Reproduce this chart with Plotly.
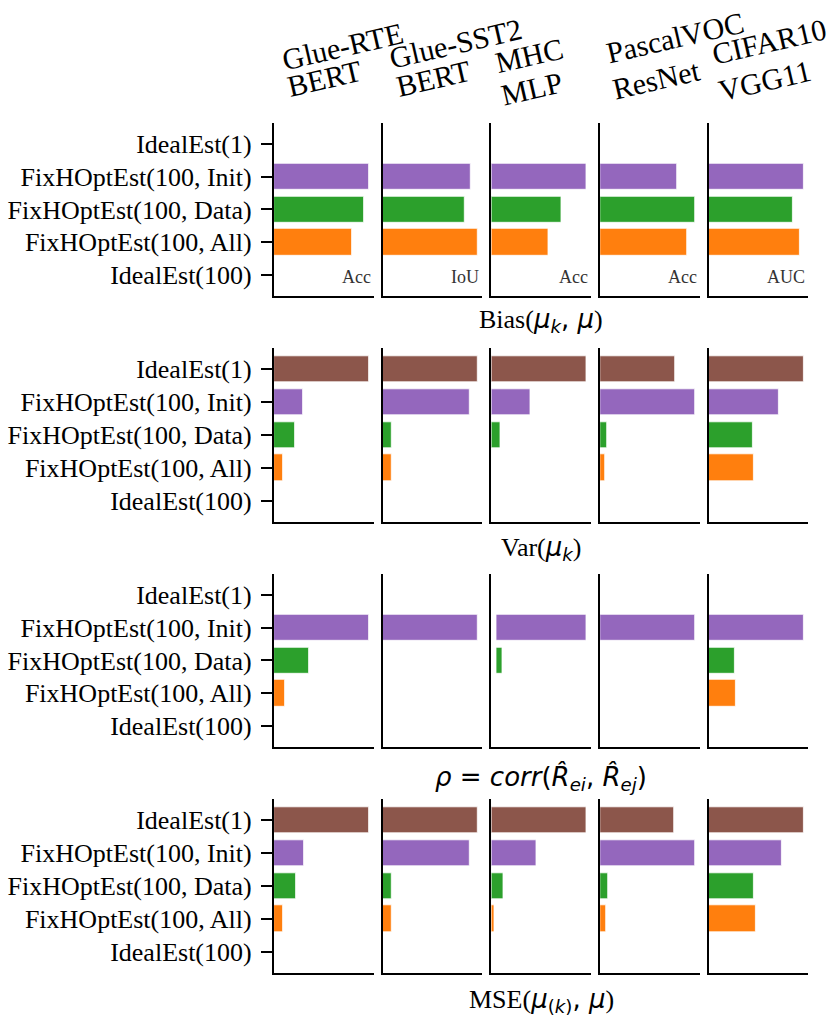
import plotly.graph_objects as go
from plotly.subplots import make_subplots

estimators = ["IdealEst(1)", "FixHOptEst(100, Init)", "FixHOptEst(100, Data)",
              "FixHOptEst(100, All)", "IdealEst(100)"]
colors = ["#8c564b", "#9467bd", "#2ca02c", "#ff7f0e", "#1f77b4"]

datasets = ["Glue-RTE", "Glue-SST2", "MHC", "PascalVOC", "CIFAR10"]
models = ["BERT", "BERT", "MLP", "ResNet", "VGG11"]
scores = ["Acc", "IoU", "Acc", "Acc", "AUC"]

# relative values, one list per dataset (order = estimators)
bias = [[0, 1.00, 0.95, 0.82, 0],
        [0, 0.93, 0.86, 1.00, 0],
        [0, 1.00, 0.74, 0.60, 0],
        [0, 0.81, 1.00, 0.92, 0],
        [0, 1.00, 0.89, 0.96, 0]]
var = [[1.00, 0.31, 0.22, 0.09, 0],
       [1.00, 0.92, 0.10, 0.09, 0],
       [1.00, 0.41, 0.10, 0.004, 0],
       [0.79, 1.00, 0.07, 0.05, 0],
       [1.00, 0.74, 0.46, 0.48, 0]]
corr = [[0, 1.00, 0.37, 0.12, 0],
        [0, 1.00, 0, 0, 0],
        [0.004, 1.00, 0.07, 0.004, -0.005],
        [0, 1.00, 0, 0, 0],
        [0, 1.00, 0.27, 0.28, 0]]
mse = [[1.00, 0.32, 0.23, 0.095, 0],
       [1.00, 0.92, 0.10, 0.09, 0],
       [1.00, 0.47, 0.13, 0.035, 0],
       [0.78, 1.00, 0.087, 0.068, 0],
       [1.00, 0.77, 0.48, 0.50, 0]]

metrics = [bias, var, corr, mse]
dv = 'font-family:DejaVu Sans'
metric_titles = [
    'Bias(<span style="%s"><i>μ</i><sub><i>k</i></sub>, <i>μ</i></span>)' % dv,
    'Var(<span style="%s"><i>μ</i><sub><i>k</i></sub></span>)' % dv,
    '<span style="%s"><i>ρ</i> = <i>corr</i>(<i>R̂</i><sub><i>ei</i></sub>, <i>R̂</i><sub><i>ej</i></sub>)</span>' % dv,
    'MSE(<span style="%s"><i>μ</i><sub>(<i>k</i>)</sub>, <i>μ</i></span>)' % dv,
]

W, H = 830, 1025
X0, XSTEP, PW = 274, 108.7, 99.5
Y0, YSTEP, PH = 122.7, 225.5, 173.5

fig = make_subplots(rows=4, cols=5)

for r, vals in enumerate(metrics):
    for c in range(5):
        v = vals[c]
        fig.add_trace(go.Bar(x=v, y=list(range(5)), orientation="h", width=0.8,
                             marker=dict(color=colors, line=dict(color="white", width=0.8)),
                             showlegend=False),
                      row=r + 1, col=c + 1)
        lo, hi = min(0, min(v)), max(v)
        span = hi - lo
        xr = [lo - 0.05 * span if lo < 0 else 0, hi + 0.05 * span]
        left = X0 + c * XSTEP
        top = Y0 + r * YSTEP
        fig.update_xaxes(domain=[left / W, (left + PW) / W], range=xr,
                         showline=True, linecolor="black", linewidth=2.2,
                         showgrid=False, zeroline=False, showticklabels=False, ticks="",
                         row=r + 1, col=c + 1)
        if c == 0:
            fig.update_yaxes(tickvals=list(range(5)), ticktext=estimators,
                             ticks="outside", ticklen=11, tickwidth=2.2, tickcolor="black",
                             ticklabelstandoff=4, row=r + 1, col=c + 1)
        else:
            fig.update_yaxes(showticklabels=False, ticks="", row=r + 1, col=c + 1)
        fig.update_yaxes(domain=[1 - (top + PH) / H, 1 - top / H], range=[4.64, -0.64],
                         showline=True, linecolor="black", linewidth=2.2,
                         showgrid=False, zeroline=False, row=r + 1, col=c + 1)
        if r == 0:
            n = c + 1
            fig.add_annotation(text=scores[c], x=0.99, y=4.05,
                               xref="x%s domain" % ("" if n == 1 else n),
                               yref="y%s" % ("" if n == 1 else n),
                               xanchor="right", yanchor="middle", showarrow=False,
                               font=dict(size=18, color="#333333"))

# column titles (two rotated lines each)
line1_pos = [(342, 46), (455, 43), (529, 55), (675, 37), (769, 41)]
line2_pos = [(324, 79), (433, 79), (532, 89), (656, 80), (765, 81)]
for c in range(5):
    for txt, (px, py) in ((datasets[c], line1_pos[c]), (models[c], line2_pos[c])):
        fig.add_annotation(text=txt, x=px / W, y=1 - py / H, xref="paper", yref="paper",
                           xanchor="center", yanchor="middle", textangle=-13,
                           showarrow=False, font=dict(size=30))

# metric titles under each row
title_y = [320, 548, 778, 1000]
for r in range(4):
    fig.add_annotation(text=metric_titles[r], x=541 / W, y=1 - title_y[r] / H,
                       xref="paper", yref="paper", xanchor="center", yanchor="middle",
                       showarrow=False, font=dict(size=26))

fig.update_layout(width=W, height=H, margin=dict(l=0, r=0, t=0, b=0),
                  plot_bgcolor="white", paper_bgcolor="white",
                  font=dict(family="Liberation Serif", size=26, color="black"),
                  bargap=0)

# the page body has a default 8px margin; drop it so the figure sits at 0,0
fig.write_html("out.html", config={"displayModeBar": False},
               post_script="document.body.style.margin='0';")
